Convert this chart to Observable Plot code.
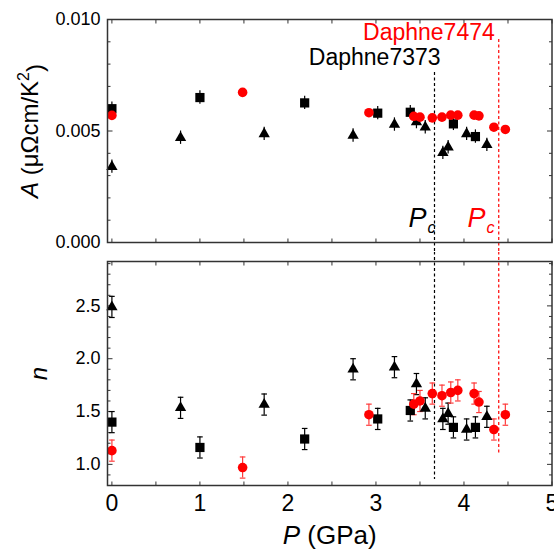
<!DOCTYPE html>
<html>
<head>
<meta charset="utf-8">
<script src="https://cdn.jsdelivr.net/npm/d3@7"></script>
<script src="https://cdn.jsdelivr.net/npm/@observablehq/plot@0.6"></script>
<style>
  body { margin: 0; background: #fff; }
  #chart { position: relative; width: 554px; height: 552px; background: #fff; overflow: hidden; }
  #chart svg { position: absolute; left: 0; }
</style>
</head>
<body>
<div id="chart"></div>
<script>
// ---------- data ----------
// Black squares
const sqP = [0, 1.0, 2.19, 3.02, 3.39, 3.88, 4.13];
const sqA = [0.0060, 0.0065, 0.00626, 0.0058, 0.00584, 0.00532, 0.00475];
const sqN = [1.40, 1.16, 1.24, 1.43, 1.51, 1.35, 1.35];
const sqAErr = [0.0003, 0.0003, 0.0003, 0.0003, 0.0003, 0.0003, 0.0003];
const sqNErr = [0.1, 0.1, 0.1, 0.1, 0.1, 0.1, 0.1];
// Black triangles
const triP = [0, 0.78, 1.73, 2.74, 3.21, 3.46, 3.56, 3.76, 3.82, 4.03, 4.26];
const triA = [0.0034, 0.0047, 0.00487, 0.0048, 0.00529, 0.0054, 0.00517, 0.00402, 0.00427, 0.00487, 0.00438];
const triN = [2.49, 1.535, 1.566, 1.90, 1.92, 1.76, 1.53, 1.43, 1.48, 1.33, 1.45];
const triAErr = [0.0003, 0.0003, 0.0003, 0.0003, 0.0003, 0.0003, 0.0003, 0.0003, 0.0003, 0.0003, 0.0003];
const triNErr = [0.1, 0.1, 0.1, 0.1, 0.1, 0.1, 0.1, 0.1, 0.1, 0.1, 0.1];
// Red circles
const redP = [0, 1.485, 2.92, 3.43, 3.50, 3.64, 3.75, 3.85, 3.93, 4.115, 4.17, 4.34, 4.47];
const redA = [0.0057, 0.00673, 0.00582, 0.00566, 0.00562, 0.00559, 0.00562, 0.00571, 0.00571, 0.00571, 0.00568, 0.00517, 0.00507];
const redN = [1.13, 0.97, 1.47, 1.57, 1.60, 1.67, 1.65, 1.68, 1.70, 1.67, 1.59, 1.33, 1.47];
const redNErr = [0.1, 0.1, 0.1, 0.1, 0.1, 0.1, 0.1, 0.1, 0.1, 0.1, 0.1, 0.1, 0.1];

// Critical pressures and annotation
const pcBlack = 3.665, pcRed = 4.395;
const sampleLabels = ["Daphne7373", "Daphne7474"];

// Axes
const xDomain = [-0.05, 5];
const xTicks = [0, 1, 2, 3, 4, 5];
const xMinor = [0, 0.5, 1, 1.5, 2, 2.5, 3, 3.5, 4, 4.5, 5];
const aDomain = [0, 0.010];
const aTicks = [0, 0.005, 0.010];
const aMinor = [0.001, 0.002, 0.003, 0.004, 0.006, 0.007, 0.008, 0.009];
const nDomain = [0.8, 2.92];
const nTicks = [1.0, 1.5, 2.0, 2.5];
const nMinor = [0.8, 0.9, 1.1, 1.2, 1.3, 1.4, 1.6, 1.7, 1.8, 1.9, 2.1, 2.2, 2.3, 2.4, 2.6, 2.7, 2.8, 2.9];

const aLabel = "A (μΩcm/K2)";
const nLabel = "n";
const xLabel = "P (GPa)";

// ---------- tables ----------
const squares = sqP.map((P, i) => ({P, A: sqA[i], aErr: sqAErr[i], n: sqN[i], nErr: sqNErr[i]}));
const triangles = triP.map((P, i) => ({P, A: triA[i], aErr: triAErr[i], n: triN[i], nErr: triNErr[i]}));
const circles = redP.map((P, i) => ({P, A: redA[i], n: redN[i], nErr: redNErr[i]}));

const FONT = "'Liberation Sans', Arial, Helvetica, sans-serif";
const FRAME = "#333";
const RED = "#ff0000";
const RED_ERR = "#ff3b3b";

// line-shaped symbols (for error-bar caps and inward ticks)
const capSymbol = {
  draw(ctx, size) { const r = Math.sqrt(size / Math.PI); ctx.moveTo(-r, 0); ctx.lineTo(r, 0); }
};
const lineSym = (dx, dy) => ({ draw(ctx) { ctx.moveTo(0, 0); ctx.lineTo(dx, dy); } });

function insideTicks(yDomain, yMajor, yMinor) {
  const tk = {fill: "none", stroke: FRAME, strokeWidth: 1, r: 3};
  return [
    Plot.dot(xMinor, {x: d => d, y: yDomain[0], symbol: lineSym(0, -4), ...tk}),
    Plot.dot(xMinor, {x: d => d, y: yDomain[1], symbol: lineSym(0, 4), ...tk}),
    Plot.dot(yMajor, {y: d => d, x: xDomain[0], symbol: lineSym(5, 0), ...tk}),
    Plot.dot(yMinor, {y: d => d, x: xDomain[0], symbol: lineSym(3, 0), ...tk}),
    Plot.dot(yMajor, {y: d => d, x: xDomain[1], symbol: lineSym(-5, 0), ...tk}),
    Plot.dot(yMinor, {y: d => d, x: xDomain[1], symbol: lineSym(-3, 0), ...tk})
  ];
}

function errorBars(data, yKey, errKey, color) {
  return [
    Plot.ruleX(data, {x: "P", y1: d => d[yKey] - d[errKey], y2: d => d[yKey] + d[errKey], stroke: color, strokeWidth: 1.2}),
    Plot.dot(data, {x: "P", y: d => d[yKey] - d[errKey], symbol: capSymbol, r: 2.8, fill: "none", stroke: color, strokeWidth: 1.2}),
    Plot.dot(data, {x: "P", y: d => d[yKey] + d[errKey], symbol: capSymbol, r: 2.8, fill: "none", stroke: color, strokeWidth: 1.2})
  ];
}

// ---------- top panel: A ----------
const topPlot = Plot.plot({
  width: 554, height: 252,
  marginLeft: 107, marginRight: 2.5, marginTop: 19, marginBottom: 10,
  x: {domain: xDomain, axis: null},
  y: {domain: aDomain, axis: null},
  style: {fontFamily: FONT, background: "transparent", color: "black", overflow: "hidden"},
  marks: [
    ...insideTicks(aDomain, aTicks, aMinor),
    Plot.text(aTicks, {y: d => d, frameAnchor: "left", dx: -7, textAnchor: "end", text: d3.format(".3f"), fontSize: 18, fill: "black"}),
    Plot.ruleX([pcBlack], {y1: 0.00762, y2: -0.0005, stroke: "black", strokeWidth: 1.2, strokeDasharray: "3,2.5"}),
    Plot.ruleX([pcRed], {y1: 0.0091, y2: -0.0005, stroke: RED, strokeWidth: 1.2, strokeDasharray: "3,2.5"}),
    Plot.ruleX(squares, {x: "P", y1: d => d.A - d.aErr, y2: d => d.A + d.aErr, stroke: "black", strokeWidth: 1.2}),
    Plot.ruleX(triangles, {x: "P", y1: d => d.A - d.aErr, y2: d => d.A + d.aErr, stroke: "black", strokeWidth: 1.2}),
    Plot.dot(squares, {x: "P", y: "A", symbol: "square", r: 5.2, fill: "black", stroke: "none"}),
    Plot.dot(triangles, {x: "P", y: "A", symbol: "triangle", r: 4.2, fill: "black", stroke: "none"}),
    Plot.dot(circles, {x: "P", y: "A", symbol: "circle", r: 4.8, fill: RED, stroke: "none"}),
    Plot.text([sampleLabels[0]], {x: 3.734, y: 0.00827, text: d => d, textAnchor: "end", fontSize: 23, fill: "black"}),
    Plot.text([sampleLabels[1]], {x: 4.35, y: 0.00939, text: d => d, textAnchor: "end", fontSize: 23, fill: RED}),
    Plot.text(["P"], {x: 3.37, y: 0.00108, text: d => d, textAnchor: "start", fontSize: 27, fontStyle: "italic", fill: "black"}),
    Plot.text(["c"], {x: 3.37, y: 0.00108, text: d => d, textAnchor: "start", fontSize: 16, fontStyle: "italic", dx: 19, dy: 9, fill: "black"}),
    Plot.text(["P"], {x: 4.04, y: 0.00108, text: d => d, textAnchor: "start", fontSize: 27, fontStyle: "italic", fill: RED}),
    Plot.text(["c"], {x: 4.04, y: 0.00108, text: d => d, textAnchor: "start", fontSize: 16, fontStyle: "italic", dx: 19, dy: 9, fill: RED}),
    Plot.text([aLabel], {frameAnchor: "left", dx: -77, rotate: -90, textAnchor: "middle", text: d => d, fontSize: 24, fill: "black"}),
    Plot.frame({stroke: FRAME, strokeWidth: 1.5})
  ]
});

// ---------- bottom panel: n ----------
const botPlot = Plot.plot({
  width: 554, height: 300,
  marginLeft: 107, marginRight: 2.5, marginTop: 9, marginBottom: 67,
  x: {domain: xDomain, axis: null},
  y: {domain: nDomain, axis: null},
  style: {fontFamily: FONT, background: "transparent", color: "black", overflow: "hidden"},
  marks: [
    ...insideTicks(nDomain, nTicks, nMinor),
    Plot.text(nTicks, {y: d => d, frameAnchor: "left", dx: -7, textAnchor: "end", text: d3.format(".1f"), fontSize: 18, fill: "black"}),
    Plot.text(xTicks, {x: d => d, frameAnchor: "bottom", dy: 9, lineAnchor: "top", text: d => String(d), fontSize: 23, fill: "black"}),
    Plot.ruleX([pcBlack], {y1: 3.01, y2: 0.857, stroke: "black", strokeWidth: 1.2, strokeDasharray: "3,2.5"}),
    Plot.ruleX([pcRed], {y1: 3.01, y2: 1.084, stroke: RED, strokeWidth: 1.2, strokeDasharray: "3,2.5"}),
    ...errorBars(squares, "n", "nErr", "black"),
    ...errorBars(triangles, "n", "nErr", "black"),
    ...errorBars(circles, "n", "nErr", RED_ERR),
    Plot.dot(squares, {x: "P", y: "n", symbol: "square", r: 5.2, fill: "black", stroke: "none"}),
    Plot.dot(triangles, {x: "P", y: "n", symbol: "triangle", r: 4.2, fill: "black", stroke: "none"}),
    Plot.dot(circles, {x: "P", y: "n", symbol: "circle", r: 4.8, fill: RED, stroke: "none"}),
    Plot.text([nLabel], {frameAnchor: "left", dx: -68, rotate: -90, textAnchor: "middle", text: d => d, fontSize: 24, fontStyle: "italic", fill: "black"}),
    Plot.text([xLabel], {frameAnchor: "bottom", dy: 58.7, textAnchor: "middle", text: d => d, fontSize: 26, fill: "black"}),
    Plot.frame({stroke: FRAME, strokeWidth: 1.5})
  ]
});

const chart = document.getElementById("chart");
topPlot.style.top = "0px";
botPlot.style.top = "252px";
chart.appendChild(topPlot);
chart.appendChild(botPlot);

// rich text for axis titles (italic symbols, superscript)
d3.select(topPlot).selectAll("text").filter(function () { return this.textContent === aLabel; }).each(function () {
  this.innerHTML = '<tspan font-style="italic">A</tspan> (μΩcm/K<tspan dy="-0.55em" font-size="16">2</tspan><tspan dy="0.55em">)</tspan>';
});
d3.select(botPlot).selectAll("text").filter(function () { return this.textContent === xLabel; }).each(function () {
  this.innerHTML = '<tspan font-style="italic">P</tspan> (GPa)';
});
</script>
</body>
</html>
